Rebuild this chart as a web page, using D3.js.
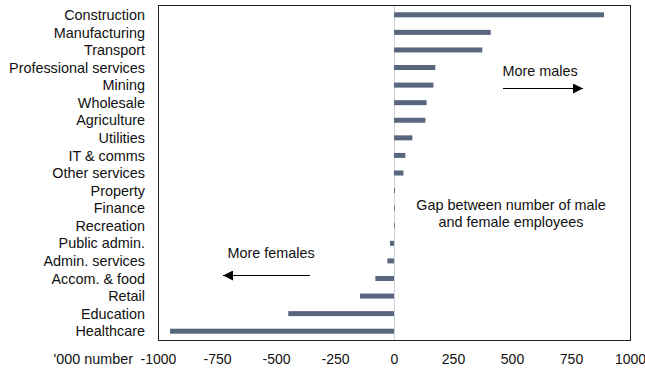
<!DOCTYPE html>
<html>
<head>
<meta charset="utf-8">
<script src="https://cdn.jsdelivr.net/npm/d3@7"></script>
<style>
  html, body { margin: 0; padding: 0; background: #fff; }
  svg { display: block; font-family: "Liberation Sans", Arial, sans-serif; }
</style>
</head>
<body>
<svg id="chart" width="645" height="368"></svg>
<script>
// Industries, top to bottom
const industries = [
  "Construction", "Manufacturing", "Transport", "Professional services",
  "Mining", "Wholesale", "Agriculture", "Utilities", "IT & comms",
  "Other services", "Property", "Finance", "Recreation", "Public admin.",
  "Admin. services", "Accom. & food", "Retail", "Education", "Healthcare"
];
// Male minus female employees, '000
const gap = [
  890, 410, 374, 175, 167, 138, 133, 78, 48, 40,
  4, 3, 3, -17, -28, -79, -144, -448, -949
];
const xTicks = [-1000, -750, -500, -250, 0, 250, 500, 750, 1000];

const svg = d3.select("#chart");
const frameL = 158.5, frameR = 630.5, frameT = 5.5, frameB = 340.5;
const fs = 14.4;

const x = d3.scaleLinear().domain([-1000, 1000]).range([158, 630]);
const y = d3.scaleBand().domain(industries).range([6, 340]).paddingInner(0);

const barH = 5;
const rows = industries.map((d, i) => ({ name: d, v: gap[i] }));

// zero line
svg.append("line")
  .attr("x1", x(0) + 0.5).attr("x2", x(0) + 0.5)
  .attr("y1", frameT).attr("y2", frameB)
  .attr("stroke", "#cfd3d8").attr("stroke-width", 1);

// bars
svg.append("g").selectAll("rect").data(rows).join("rect")
  .attr("x", d => Math.min(x(0), x(d.v)))
  .attr("width", d => Math.max(0.8, Math.abs(x(d.v) - x(0))))
  .attr("y", d => y(d.name) + y.bandwidth() / 2 - barH / 2)
  .attr("height", barH)
  .attr("fill", "#58677d");

// plot frame
svg.append("rect")
  .attr("x", frameL).attr("y", frameT)
  .attr("width", frameR - frameL).attr("height", frameB - frameT)
  .attr("fill", "none").attr("stroke", "#222").attr("stroke-width", 1);

// category labels
svg.append("g").selectAll("text").data(industries).join("text")
  .attr("x", 145)
  .attr("y", d => y(d) + y.bandwidth() / 2)
  .attr("dy", "0.36em")
  .attr("text-anchor", "end")
  .attr("font-size", fs)
  .attr("fill", "#111")
  .text(d => d);

// x-axis labels (plain hyphen for negatives)
const xAxis = d3.axisBottom(x).tickValues(xTicks).tickSize(0).tickPadding(0)
  .tickFormat(d => String(d));
const gx = svg.append("g").attr("transform", `translate(0,${frameB})`).call(xAxis);
gx.select(".domain").remove();
gx.selectAll("text")
  .attr("y", 23.5).attr("dy", 0)
  .attr("font-size", 14)
  .attr("font-family", "Liberation Sans, Arial, sans-serif")
  .attr("fill", "#111");

svg.append("text")
  .attr("x", 133).attr("y", 364)
  .attr("text-anchor", "end")
  .attr("font-size", fs).attr("fill", "#111")
  .text("'000 number");

// annotations
const defs = svg.append("defs");
defs.append("marker")
  .attr("id", "head").attr("viewBox", "0 0 10 10")
  .attr("refX", 10).attr("refY", 5)
  .attr("markerWidth", 10).attr("markerHeight", 10)
  .attr("markerUnits", "userSpaceOnUse")
  .attr("orient", "auto")
  .append("path").attr("d", "M0,0L10,5L0,10Z").attr("fill", "#000");

svg.append("text")
  .attr("x", 540).attr("y", 76)
  .attr("text-anchor", "middle").attr("font-size", fs).attr("fill", "#111")
  .text("More males");
svg.append("line")
  .attr("x1", 503).attr("x2", 583).attr("y1", 88.5).attr("y2", 88.5)
  .attr("stroke", "#000").attr("stroke-width", 1)
  .attr("marker-end", "url(#head)");

svg.append("text")
  .attr("x", 271).attr("y", 258)
  .attr("text-anchor", "middle").attr("font-size", fs).attr("fill", "#111")
  .text("More females");
svg.append("line")
  .attr("x1", 310).attr("x2", 223).attr("y1", 275.5).attr("y2", 275.5)
  .attr("stroke", "#000").attr("stroke-width", 1)
  .attr("marker-end", "url(#head)");

svg.append("text")
  .attr("x", 511).attr("y", 210)
  .attr("text-anchor", "middle").attr("font-size", fs).attr("fill", "#111")
  .text("Gap between number of male");
svg.append("text")
  .attr("x", 511).attr("y", 227)
  .attr("text-anchor", "middle").attr("font-size", fs).attr("fill", "#111")
  .text("and female employees");
</script>
</body>
</html>
